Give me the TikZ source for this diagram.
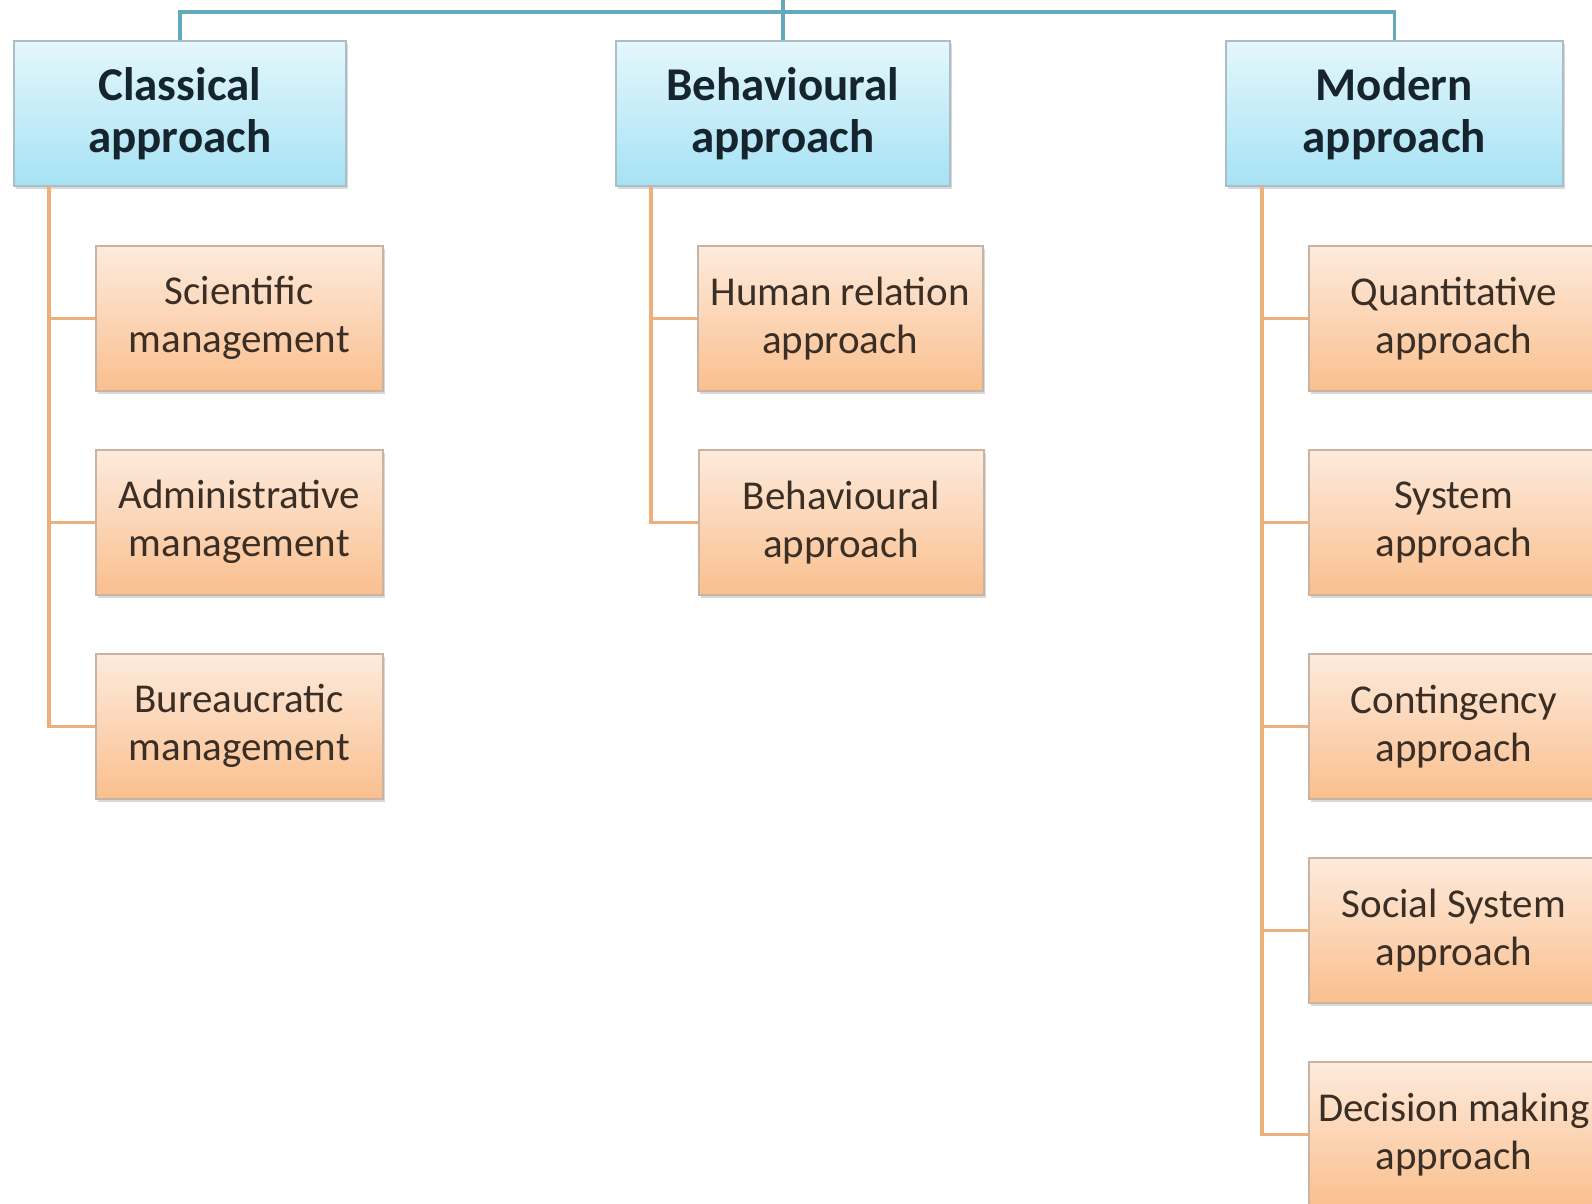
\documentclass[tikz,border=0pt]{standalone}
\usepackage{fontspec}
\setmainfont{Carlito}
\usetikzlibrary{shadows}
\definecolor{headtop}{HTML}{E4F7FC}
\definecolor{headbot}{HTML}{A6E2F4}
\definecolor{headedge}{HTML}{A9BEC6}
\definecolor{kidtop}{HTML}{FDEBDD}
\definecolor{kidbot}{HTML}{FABF8E}
\definecolor{kidedge}{HTML}{C9B3A2}
\definecolor{tealline}{HTML}{63A9BD}
\definecolor{orline}{HTML}{EDB07C}
\definecolor{headtext}{HTML}{16252D}
\definecolor{kidtext}{HTML}{3A2E25}
\tikzset{
  headbox/.style={draw=headedge, line width=1.5pt, top color=headtop, bottom color=headbot,
    minimum width=332pt, minimum height=145pt, inner sep=0pt, align=center, anchor=north west,
    text=headtext, font=\fontsize{47}{52}\selectfont\bfseries,
    drop shadow={shadow xshift=2pt, shadow yshift=-3pt, opacity=0.25, fill=black!60}},
  kidbox/.style={draw=kidedge, line width=1.5pt, top color=kidtop, bottom color=kidbot,
    minimum width=285pt, minimum height=145pt, inner sep=0pt, align=center, anchor=north west,
    text=kidtext, font=\fontsize{41}{48}\selectfont,
    drop shadow={shadow xshift=2pt, shadow yshift=-3pt, opacity=0.25, fill=black!60}},
  tline/.style={draw=tealline, line width=3.5pt},
  oline/.style={draw=orline, line width=3.5pt}
}
\begin{document}
\begin{tikzpicture}[x=1pt,y=-1pt]
\useasboundingbox (0,0) rectangle (1592,1203);
\fill[white] (0,0) rectangle (1592,1203);
% header boxes
\node[headbox] (cl) at (13,40) {Classical\\approach};
\node[headbox, minimum width=334pt] (be) at (615,40) {Behavioural\\approach};
\node[headbox, minimum width=337pt] (mo) at (1225,40) {Modern\\approach};
% classical children
\node[kidbox, minimum width=287pt] (s1) at (95,245) {Scientific\\management};
\node[kidbox, minimum width=287pt] (s2) at (95,449) {Administrative\\management};
\node[kidbox, minimum width=287pt] (s3) at (95,653) {Bureaucratic\\management};
% behavioural children
\node[kidbox] (h1) at (697,245) {Human relation\\approach};
\node[kidbox] (h2) at (698,449) {Behavioural\\approach};
% modern children
\node[kidbox, minimum width=290pt] (m1) at (1308,245) {Quantitative\\approach};
\node[kidbox, minimum width=290pt] (m2) at (1308,449) {System\\approach};
\node[kidbox, minimum width=290pt] (m3) at (1308,653) {Contingency\\approach};
\node[kidbox, minimum width=290pt] (m4) at (1308,857) {Social System\\approach};
\node[kidbox, minimum width=290pt] (m5) at (1308,1061) {Decision making\\approach};
% top connectors
\coordinate (top) at (783,0);
\coordinate (bar) at (0,12);
\draw[tline] (cl.north) -- (cl.north |- bar) -- (mo.north |- bar) -- (mo.north);
\draw[tline] (be.north) -- (be.north |- top);
% orange trunks
\coordinate (cv) at (49,186);
\coordinate (bv) at (651,186);
\coordinate (mv) at (1262,186);
\draw[oline] (cv) |- (s3.west);
\draw[oline] (cv |- s1.west) -- (s1.west);
\draw[oline] (cv |- s2.west) -- (s2.west);
\draw[oline] (bv) |- (h2.west);
\draw[oline] (bv |- h1.west) -- (h1.west);
\draw[oline] (mv) |- (m5.west);
\draw[oline] (mv |- m1.west) -- (m1.west);
\draw[oline] (mv |- m2.west) -- (m2.west);
\draw[oline] (mv |- m3.west) -- (m3.west);
\draw[oline] (mv |- m4.west) -- (m4.west);
\end{tikzpicture}
\end{document}
